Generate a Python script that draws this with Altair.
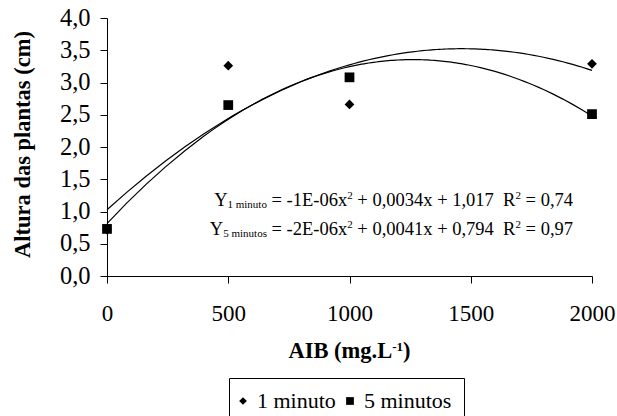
import altair as alt
import pandas as pd

# ---------------- data ----------------
aib = [0, 500, 1000, 2000]
altura_1min = [0.72, 3.26, 2.66, 3.29]
altura_5min = [0.73, 2.65, 3.08, 2.51]
series_names = ["1 minuto", "5 minutos"]
series_shapes = ["diamond", "square"]
x_ticks = [0, 500, 1000, 1500, 2000]
y_ticks = [0.0, 0.5, 1.0, 1.5, 2.0, 2.5, 3.0, 3.5, 4.0]

eq_line1 = [("Y", "main"), ("1 minuto", "sub"), (" = -1E-06x", "main"), ("2", "sup"),
            (" + 0,0034x + 1,017  R", "main"), ("2", "sup"), (" = 0,74", "main")]
eq_line2 = [("Y", "main"), ("5 minutos", "sub"), (" = -2E-06x", "main"), ("2", "sup"),
            (" + 0,0041x + 0,794  R", "main"), ("2", "sup"), (" = 0,97", "main")]
x_title = [("AIB (mg.L", "main"), ("-1", "sup"), (")", "main")]
y_title = "Altura das plantas (cm)"

# ---------------- geometry ----------------
PL, PT, W, H = 107, 18, 485, 258
XMAX, YMAX = 2000, 4.0
FONT = "Liberation Serif"

df = pd.DataFrame({
    "x": aib + aib,
    "y": altura_1min + altura_5min,
    "series": [series_names[0]] * len(aib) + [series_names[1]] * len(aib),
})

# Times / Liberation Serif advance widths (1/1000 em)
REG = {' ': 250, ',': 250, '.': 250, '-': 333, '=': 564, '+': 564, 'E': 611, 'R': 667,
       'Y': 722, 'x': 500, 'm': 778, 'i': 278, 'n': 500, 'u': 500, 't': 278, 'o': 500, 's': 389}
BOLD = {'A': 722, 'I': 389, 'B': 667, ' ': 250, '(': 333, ')': 333, 'm': 833, 'g': 500,
        '.': 250, 'L': 667, '-': 333, '1': 500}


def to_x(px):
    return (px - PL) / W * XMAX


def to_y(py):
    return (PT + H - py) / H * YMAX


def layout(pieces, start, base, table, sizes, shifts):
    rows = []
    cur = start
    for text, kind in pieces:
        size = sizes[kind]
        tok, tok_x = "", cur
        for c in text:
            w = table.get(c, 500) * size / 1000
            if c == " ":
                if tok:
                    rows.append({"x": to_x(tok_x), "y": to_y(base + shifts[kind]), "t": tok, "k": kind})
                    tok = ""
                cur += w
            else:
                if not tok:
                    tok_x = cur
                tok += c
                cur += w
        if tok:
            rows.append({"x": to_x(tok_x), "y": to_y(base + shifts[kind]), "t": tok, "k": kind})
    return rows, cur - start


EQ_SIZES = {"main": 18.5, "sub": 11, "sup": 11}
EQ_SHIFT = {"main": 0, "sub": 2, "sup": -7}
eq_rows = []
for pieces, base in [(eq_line1, 206), (eq_line2, 235)]:
    _, total = layout(pieces, 0, base, REG, EQ_SIZES, EQ_SHIFT)
    rows, _ = layout(pieces, 573 - total, base, REG, EQ_SIZES, EQ_SHIFT)
    eq_rows += rows

XT_SIZES = {"main": 22.5, "sup": 13}
XT_SHIFT = {"main": 0, "sup": -7}
_, xt_total = layout(x_title, 0, 358, BOLD, XT_SIZES, XT_SHIFT)
xt_rows, _ = layout(x_title, PL + W / 2 - xt_total / 2, 358, BOLD, XT_SIZES, XT_SHIFT)

eq_df = pd.DataFrame(eq_rows)
xt_df = pd.DataFrame(xt_rows)

# ---------------- scales / axes ----------------
xscale = alt.Scale(domain=[0, XMAX], nice=False, zero=False)
yscale = alt.Scale(domain=[0, YMAX], nice=False)

xaxis = alt.Axis(values=x_ticks, format="d", labelFont=FONT, labelFontSize=23, labelColor="black",
                 tickSize=7, tickColor="black", domainColor="black", labelPadding=19, grid=False,
                 title=None, labelFlush=False, labelOverlap=False)
yaxis = alt.Axis(values=y_ticks, labelExpr="replace(format(datum.value, '.1f'), '.', ',')",
                 labelFont=FONT, labelFontSize=24.5, labelColor="black", tickSize=7, tickColor="black",
                 domainColor="black", labelPadding=10, grid=False, labelFlush=False, labelOverlap=False,
                 title=y_title, titleFont=FONT, titleFontSize=22.5, titleFontWeight="bold",
                 titleColor="black", titleX=-78, titleY=126, titleAngle=270, titleAlign="center",
                 titleBaseline="alphabetic")

X = alt.X("x:Q", scale=xscale, axis=xaxis)
Y = alt.Y("y:Q", scale=yscale, axis=yaxis)

base = alt.Chart(df)

curves = base.transform_regression(
    "x", "y", groupby=["series"], method="poly", order=2
).mark_line(color="black", strokeWidth=1.2).encode(x=X, y=Y, detail="series:N")

points = base.mark_point(filled=True, size=95, opacity=1, color="black").encode(
    x=X, y=Y,
    shape=alt.Shape("series:N", scale=alt.Scale(domain=series_names, range=series_shapes),
                    legend=alt.Legend(title=None, orient="none", legendX=122, legendY=360,
                                      direction="horizontal", strokeColor="black", padding=12,
                                      fillColor="white", cornerRadius=0,
                                      labelFont=FONT, labelFontSize=22, labelColor="black",
                                      symbolSize=60, symbolFillColor="black", symbolStrokeWidth=0,
                                      symbolOffset=-9, labelOffset=3, columnPadding=10)),
)

eq_main = alt.Chart(eq_df).transform_filter("datum.k == 'main'").mark_text(
    align="left", baseline="alphabetic", font=FONT, fontSize=18.5, color="black"
).encode(x=X, y=Y, text="t:N")
eq_small = alt.Chart(eq_df).transform_filter("datum.k != 'main'").mark_text(
    align="left", baseline="alphabetic", font=FONT, fontSize=11, color="black"
).encode(x=X, y=Y, text="t:N")
xt_main = alt.Chart(xt_df).transform_filter("datum.k == 'main'").mark_text(
    align="left", baseline="alphabetic", font=FONT, fontSize=22.5, fontWeight="bold", color="black"
).encode(x=X, y=Y, text="t:N")
xt_sup = alt.Chart(xt_df).transform_filter("datum.k != 'main'").mark_text(
    align="left", baseline="alphabetic", font=FONT, fontSize=13, fontWeight="bold", color="black"
).encode(x=X, y=Y, text="t:N")

chart = alt.layer(curves, points, eq_main, eq_small, xt_main, xt_sup).properties(
    width=W, height=H,
    autosize=alt.AutoSizeParams(type="none"),
    padding={"left": PL, "top": PT, "right": 617 - PL - W, "bottom": 416 - PT - H},
    background="white",
).configure(font=FONT).configure_axis(
    labelFont=FONT, titleFont=FONT
).configure_legend(
    labelFont=FONT, titleFont=FONT
).configure_text(font=FONT).configure_view(strokeWidth=0)

chart.save("out.html", embed_options={"renderer": "svg", "actions": False})
